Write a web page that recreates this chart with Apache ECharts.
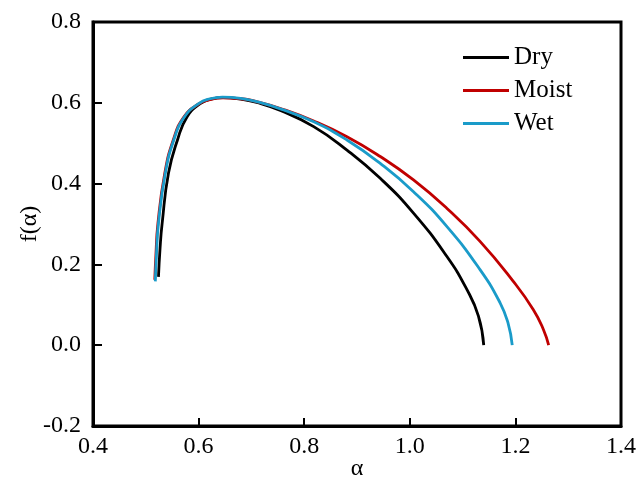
<!DOCTYPE html>
<html>
<head>
<meta charset="utf-8">
<script src="https://cdn.jsdelivr.net/npm/echarts@6/dist/echarts.min.js"></script>
<style>
  html, body { margin: 0; padding: 0; background: #fff; }
  #chart { width: 644px; height: 486px; }
</style>
</head>
<body>
<div id="chart"></div>
<script>
// alpha / f(alpha)
var dryAlpha = [0.524, 0.527, 0.531, 0.543, 0.560, 0.578, 0.603, 0.625, 0.647, 0.680, 0.710, 0.755, 0.818, 0.881, 0.944, 1.007, 1.070, 1.108, 1.130, 1.140];
var dryF     = [0.169, 0.240, 0.302, 0.426, 0.508, 0.565, 0.598, 0.610, 0.613, 0.609, 0.601, 0.581, 0.541, 0.483, 0.413, 0.327, 0.220, 0.138, 0.072, 0.000];

var moistAlpha = [0.517, 0.519, 0.523, 0.536, 0.552, 0.572, 0.600, 0.622, 0.645, 0.680, 0.710, 0.755, 0.818, 0.881, 0.944, 1.007, 1.070, 1.133, 1.196, 1.234, 1.253, 1.263];
var moistF     = [0.162, 0.220, 0.302, 0.426, 0.508, 0.565, 0.597, 0.608, 0.612, 0.610, 0.603, 0.586, 0.555, 0.516, 0.467, 0.409, 0.339, 0.257, 0.158, 0.088, 0.039, 0.000];

var wetAlpha = [0.518, 0.520, 0.524, 0.537, 0.553, 0.573, 0.600, 0.622, 0.645, 0.680, 0.710, 0.755, 0.818, 0.881, 0.944, 1.007, 1.070, 1.133, 1.171, 1.186, 1.194];
var wetF     = [0.158, 0.220, 0.302, 0.426, 0.508, 0.565, 0.598, 0.610, 0.614, 0.611, 0.603, 0.585, 0.553, 0.508, 0.450, 0.380, 0.294, 0.187, 0.105, 0.055, 0.000];

var seriesNames = ['Dry', 'Moist', 'Wet'];
var seriesColors = ['#000000', '#c00000', '#1a9bc9'];

function pairs(xs, ys) {
  var out = [];
  for (var i = 0; i < xs.length; i++) {
    out.push([xs[i], ys[i]]);
  }
  return out;
}

var allData = [pairs(dryAlpha, dryF), pairs(moistAlpha, moistF), pairs(wetAlpha, wetF)];

var font = 'Liberation Serif';
var chart = echarts.init(document.getElementById('chart'));

var series = [];
for (var i = 0; i < seriesNames.length; i++) {
  series.push({
    name: seriesNames[i],
    type: 'line',
    data: allData[i],
    smooth: 0.5,
    showSymbol: false,
    symbol: 'none',
    lineStyle: { color: seriesColors[i], width: 2.8 },
    itemStyle: { color: seriesColors[i] }
  });
}

var options = {
  backgroundColor: '#fff',
  animation: false,
  grid: {
    left: 93,
    right: 23,
    top: 22,
    bottom: 60,
    outerBoundsMode: 'none',
    show: true,
    borderColor: '#000',
    borderWidth: 3
  },
  legend: {
    orient: 'vertical',
    left: 458,
    top: 40,
    itemWidth: 46,
    itemHeight: 3,
    itemGap: 8,
    icon: 'rect',
    data: seriesNames,
    textStyle: { fontFamily: font, fontSize: 25, color: '#000' }
  },
  xAxis: {
    type: 'value',
    min: 0.4,
    max: 1.4,
    interval: 0.2,
    name: 'α',
    nameLocation: 'middle',
    nameGap: 31,
    nameMoveOverlap: false,
    nameTextStyle: { fontFamily: font, fontSize: 24, color: '#000' },
    axisLine: { onZero: false, lineStyle: { color: '#000', width: 3 } },
    axisTick: { inside: true, length: 8, lineStyle: { color: '#000', width: 2 } },
    axisLabel: {
      fontFamily: font, fontSize: 24, color: '#000', margin: 9,
      formatter: function (v) { return v.toFixed(1); }
    },
    splitLine: { show: false }
  },
  yAxis: {
    type: 'value',
    min: -0.2,
    max: 0.8,
    interval: 0.2,
    name: 'f(α)',
    nameLocation: 'middle',
    nameGap: 51,
    nameMoveOverlap: false,
    nameTextStyle: { fontFamily: font, fontSize: 24, color: '#000' },
    axisLine: { onZero: false, lineStyle: { color: '#000', width: 3 } },
    axisTick: { inside: true, length: 9, lineStyle: { color: '#000', width: 2 } },
    axisLabel: {
      fontFamily: font, fontSize: 24, color: '#000', margin: 12,
      formatter: function (v) { return v.toFixed(1); }
    },
    splitLine: { show: false }
  },
  series: series
};

chart.setOption(options);
</script>
</body>
</html>
